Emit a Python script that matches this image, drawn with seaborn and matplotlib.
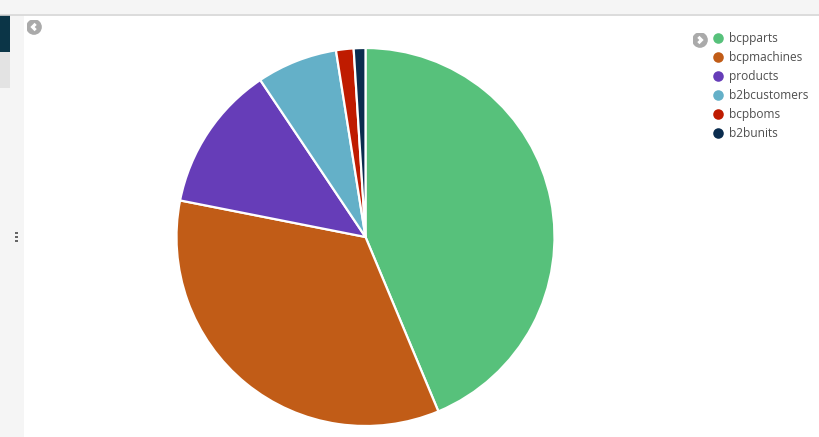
import matplotlib
matplotlib.use("Agg")
import matplotlib.pyplot as plt
import seaborn as sns
from matplotlib.patches import Rectangle, Circle
from matplotlib.lines import Line2D

categories = ["bcpparts", "bcpmachines", "products", "b2bcustomers", "bcpboms", "b2bunits"]
values = [43.7, 34.4, 12.5, 6.9, 1.5, 1.0]
colors = ["#57C17B", "#C15C17", "#663DB8", "#64B0C8", "#BF1B00", "#0A2C4E"]

sns.set_theme(style="white")
plt.rcParams['font.family'] = ['Open Sans', 'DejaVu Sans']
palette = sns.color_palette(colors)

W, H = 819, 437
fig = plt.figure(figsize=(W / 100, H / 100), dpi=100)
fig.patch.set_facecolor("white")

def px(x, y):
    return x / W, 1 - y / H

# chrome: top bar and left panel
fig.patches.append(Rectangle((0, 1 - 14 / H), 1, 14 / H, transform=fig.transFigure,
                             facecolor="#F5F5F5", edgecolor="none", zorder=0))
fig.lines.append(Line2D([0, 1], [1 - 14.5 / H] * 2, transform=fig.transFigure,
                        color="#D6D6D6", lw=1.2))
fig.patches.append(Rectangle((0, 0), 24 / W, 1 - 15 / H, transform=fig.transFigure,
                             facecolor="#F5F5F5", edgecolor="none", zorder=0))
fig.patches.append(Rectangle((0, 1 - 52 / H), 10 / W, 37 / H, transform=fig.transFigure,
                             facecolor="#0B3547", edgecolor="none", zorder=1))
fig.patches.append(Rectangle((0, 1 - 88 / H), 10 / W, 36 / H, transform=fig.transFigure,
                             facecolor="#E3E3E3", edgecolor="none", zorder=1))
for yy in (232, 235.8, 239.6):
    fig.patches.append(Rectangle(px(15.5, yy + 2.2), 2.2 / W, 2.2 / H, transform=fig.transFigure,
                                 facecolor="#666666", edgecolor="none", zorder=2))

def chevron(cx, cy, direction):
    ax_c = fig.add_axes([(cx - 7.5) / W, 1 - (cy + 7.5) / H, 15 / W, 15 / H])
    ax_c.set_xlim(-1, 1); ax_c.set_ylim(-1, 1); ax_c.axis("off")
    ax_c.add_patch(Circle((0, 0), 0.95, color="#AAAAAA"))
    d = 1 if direction == "right" else -1
    ax_c.plot([-0.22 * d, 0.2 * d, -0.22 * d], [0.42, 0, -0.42], color="white",
              lw=2.2, solid_capstyle="butt", solid_joinstyle="miter")

chevron(34, 27, "left")
chevron(700, 40, "right")

# pie
cx, cy, r = 365.5, 237, 189
ax = fig.add_axes([(cx - r) / W, 1 - (cy + r) / H, 2 * r / W, 2 * r / H])
ax.pie(values, colors=palette, startangle=90, counterclock=False,
       wedgeprops=dict(edgecolor="white", linewidth=1.6))
ax.set_aspect("equal")
ax.set_xlim(-1, 1); ax.set_ylim(-1, 1)

# legend
for i, (cat, col) in enumerate(zip(categories, palette)):
    y = 38 + i * 19
    fig.lines.append(Line2D([718 / W], [1 - y / H], transform=fig.transFigure,
                            marker="o", markersize=7.6, markerfacecolor=col,
                            markeredgecolor="none", linestyle="none"))
    fig.text(729 / W, 1 - (y + 0.8) / H, cat, fontsize=8.6, color="#505050",
             va="center", ha="left")

fig.savefig("out.png", dpi=100, facecolor="white")
